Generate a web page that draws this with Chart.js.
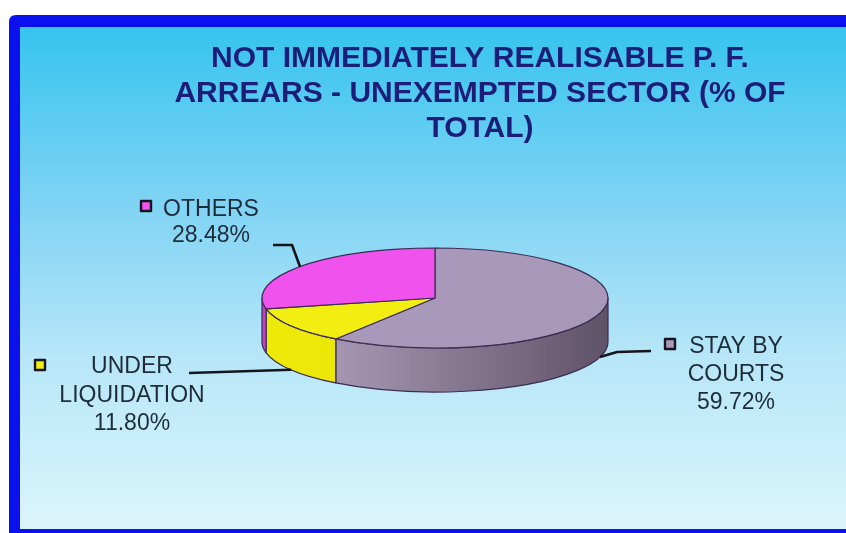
<!DOCTYPE html>
<html><head><meta charset="utf-8">
<script src="https://cdn.jsdelivr.net/npm/chart.js@4.4.1/dist/chart.umd.min.js"></script>
<style>html,body{margin:0;padding:0;background:#fff;overflow:hidden}canvas{display:block}</style>
</head><body>
<canvas id="c" width="846" height="533"></canvas>
<script>
// ---- data ----
const categories = [["STAY BY", "COURTS"], ["UNDER", "LIQUIDATION"], ["OTHERS"]];
const shares = [59.72, 11.80, 28.48];
const titleLines = ["NOT IMMEDIATELY REALISABLE P. F.", "ARREARS - UNEXEMPTED SECTOR (% OF", "TOTAL)"];

// ---- styles ----
const topColors = ["#a898ba", "#f2ee12", "#f052ee"];
const sideStops = [
  [[0, "#b4a5c0"], [0.35, "#9a8ba6"], [0.75, "#76687f"], [1, "#5f5368"]],
  [[0, "#eeea08"], [1, "#e2dc00"]],
  [[0, "#c443c2"], [1, "#b43ab2"]]
];
const FLAT = 50 / 173;   // ellipse y/x ratio
const DEPTH = 44;        // pie thickness
const labelLayout = [
  { tx: 736, y0: 353, lh: 28, mx: 664, my: 338, anchor: "bottom", path: [[617, 352], [651, 351]] },
  { tx: 132, y0: 373, lh: 28.5, mx: 34, my: 359, anchor: "bottom", path: [[189, 373]] },
  { tx: 211, y0: 216, lh: 26, mx: 140, my: 200, anchor: "top", path: [[292, 245], [273, 245]] }
];

const pie3d = {
  id: "pie3d",
  beforeDraw(chart) {
    const ctx = chart.ctx, W = chart.width, H = chart.height;
    ctx.save();
    ctx.fillStyle = "#ffffff";
    ctx.fillRect(0, 0, W, H);
    // blue frame
    ctx.fillStyle = "#0a10ee";
    ctx.beginPath();
    ctx.moveTo(9, 22); ctx.quadraticCurveTo(9, 15, 16, 15);
    ctx.lineTo(W, 15); ctx.lineTo(W, H); ctx.lineTo(9, H); ctx.closePath();
    ctx.fill();
    const g = ctx.createLinearGradient(0, 27, 0, 529);
    g.addColorStop(0, "#36c4ef");
    g.addColorStop(0.35, "#7fd3f4");
    g.addColorStop(0.65, "#b6e6f8");
    g.addColorStop(1, "#dcf5fc");
    ctx.fillStyle = g;
    ctx.fillRect(20, 27, W - 20, 502);
    // title
    ctx.fillStyle = "#1c1d78";
    ctx.font = "bold 30px 'Liberation Sans', Arial, sans-serif";
    ctx.textAlign = "center";
    ctx.textBaseline = "alphabetic";
    titleLines.forEach((t, i) => ctx.fillText(t, 480, 67 + i * 35));
    ctx.restore();
  },
  beforeDatasetDraw() { return false; },
  afterDatasetsDraw(chart) {
    const ctx = chart.ctx;
    const meta = chart.getDatasetMeta(0);
    const arcs = meta.data.map(el => el.getProps(["x", "y", "startAngle", "endAngle", "outerRadius"], true));
    if (!arcs.length) return;
    const cx = arcs[0].x, cy = arcs[0].y, rx = arcs[0].outerRadius, ry = rx * FLAT;
    ctx.save();
    ctx.lineJoin = "round";
    ctx.strokeStyle = "#3b2c52";
    ctx.lineWidth = 1.2;
    // side walls (front half only)
    arcs.forEach((a, i) => {
      const a1 = Math.max(a.startAngle, 0), a2 = Math.min(a.endAngle, Math.PI);
      if (a2 <= a1) return;
      const g = ctx.createLinearGradient(cx - rx, 0, cx + rx, 0);
      sideStops[i].forEach(s => g.addColorStop(s[0], s[1]));
      ctx.beginPath();
      ctx.ellipse(cx, cy, rx, ry, 0, a1, a2, false);
      ctx.lineTo(cx + rx * Math.cos(a2), cy + ry * Math.sin(a2) + DEPTH);
      ctx.ellipse(cx, cy + DEPTH, rx, ry, 0, a2, a1, true);
      ctx.closePath();
      ctx.fillStyle = g;
      ctx.fill();
      ctx.stroke();
    });
    // top faces
    arcs.forEach((a, i) => {
      ctx.beginPath();
      ctx.moveTo(cx, cy);
      ctx.ellipse(cx, cy, rx, ry, 0, a.startAngle, a.endAngle, false);
      ctx.closePath();
      ctx.fillStyle = topColors[i];
      ctx.fill();
      ctx.stroke();
    });
    // labels + leaders
    arcs.forEach((a, i) => {
      const L = labelLayout[i];
      const mid = (a.startAngle + a.endAngle) / 2;
      const ax = cx + rx * Math.cos(mid);
      const ay = cy + ry * Math.sin(mid) + (L.anchor === "bottom" ? DEPTH : 0);
      ctx.beginPath();
      ctx.moveTo(ax, ay);
      L.path.forEach(p => ctx.lineTo(p[0], p[1]));
      ctx.strokeStyle = "#15151c";
      ctx.lineWidth = 2.6;
      ctx.stroke();
      // marker
      ctx.fillStyle = topColors[i];
      ctx.fillRect(L.mx, L.my, 12, 12);
      ctx.strokeStyle = "#15151f";
      ctx.lineWidth = 2.4;
      ctx.strokeRect(L.mx + 1, L.my + 1, 10, 10);
      // text
      const lines = [].concat(chart.data.labels[i], shares[i].toFixed(2) + "%");
      ctx.fillStyle = "#1e2c3a";
      ctx.font = "23px 'Liberation Sans', Arial, sans-serif";
      ctx.textAlign = "center";
      ctx.textBaseline = "alphabetic";
      lines.forEach((t, k) => ctx.fillText(t, L.tx, L.y0 + k * L.lh));
    });
    ctx.restore();
  }
};

new Chart(document.getElementById("c"), {
  type: "pie",
  data: {
    labels: categories,
    datasets: [{ data: shares, backgroundColor: topColors, borderWidth: 0 }]
  },
  options: {
    responsive: false,
    animation: false,
    radius: 173,
    layout: { padding: { left: 262, right: 238, top: 125, bottom: 62 } },
    plugins: { legend: { display: false }, tooltip: { enabled: false }, title: { display: false } }
  },
  plugins: [pie3d]
});
</script>
</body></html>
